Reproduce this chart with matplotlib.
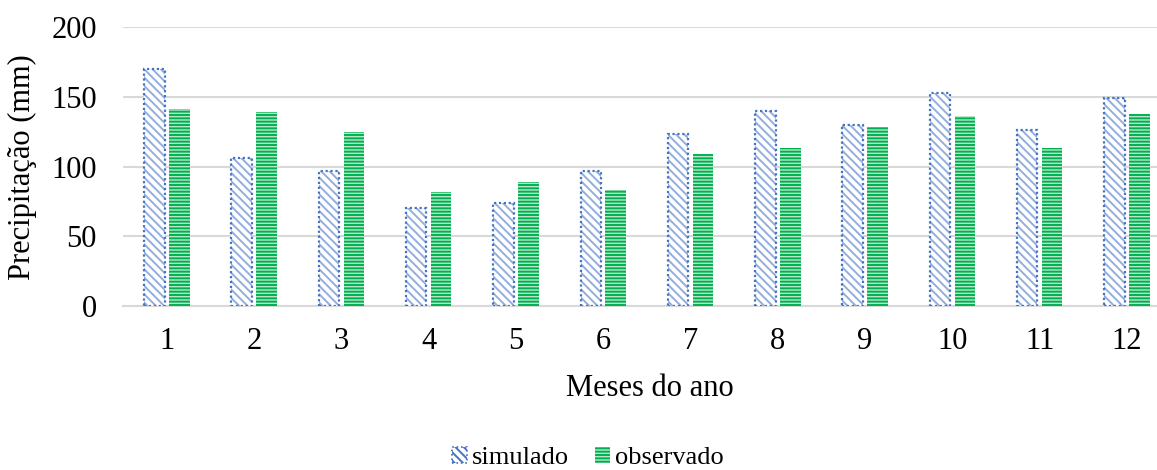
import matplotlib
matplotlib.use("Agg")
import matplotlib.pyplot as plt
import numpy as np
from matplotlib.patches import Patch

months = ["1", "2", "3", "4", "5", "6", "7", "8", "9", "10", "11", "12"]
simulado = [170, 106, 97, 70, 74, 97, 123, 140, 130, 152.5, 126.5, 149]
observado = [141, 139, 125, 81.5, 89, 83, 109, 113, 128.5, 136, 113.5, 137.5]
yticks = [0, 50, 100, 150, 200]

plt.rcParams['font.family'] = ['Liberation Serif', 'DejaVu Serif']
plt.rcParams['hatch.linewidth'] = 1.4

W, H = 1157, 470
fig = plt.figure(figsize=(W / 100, H / 100), dpi=100)
left = 123.2 / W
right = 1170.6 / W
bottom = (H - 306) / H
top = (H - 27) / H
ax = fig.add_axes([left, bottom, right - left, top - bottom])

x = np.arange(len(months))
bw = 0.235
off = 0.143

sim_blue = '#4472C4'
sim_hatch = '#92AEDF'
obs_green = '#00B050'
obs_light = '#B8E8C9'

# simulado: diagonal hatch + dotted outline
ax.bar(x - off, simulado, bw, color='white', edgecolor=sim_hatch, hatch='\\\\\\\\',
       linewidth=0, zorder=3)
ax.bar(x - off, simulado, bw, fill=False, edgecolor=sim_blue, linewidth=1.6,
       linestyle=(0, (1, 1.2)), zorder=4)
# observado: horizontal stripes
ax.bar(x + off, observado, bw, color=obs_light, edgecolor=obs_green, hatch='-----',
       linewidth=0, zorder=3)

ax.set_xlim(-0.5, len(months) - 0.5)
ax.set_ylim(0, 200)
ax.set_yticks(yticks)
ax.set_xticks(x)
ax.set_xticklabels(months)
ax.tick_params(axis='both', length=0, labelsize=22, colors='black')
ax.tick_params(axis='y', pad=19)
ax.tick_params(axis='x', pad=15)
ax.grid(axis='y', color='#D9D9D9', linewidth=1.5, zorder=0)
ax.set_axisbelow(True)
for s in ['top', 'right', 'left']:
    ax.spines[s].set_visible(False)
ax.spines['bottom'].set_color('#D9D9D9')
ax.spines['bottom'].set_linewidth(1.5)

fig.text(22 / W, (H - 167) / H, 'Precipitação (mm)', rotation=90, ha='center',
         va='center', fontsize=22)
fig.text(650 / W, (H - 388) / H, 'Meses do ano', ha='center', va='center', fontsize=22)

handles = [Patch(facecolor='white', edgecolor=sim_blue, hatch='\\\\\\\\', linestyle=':', linewidth=1.2),
           Patch(facecolor=obs_light, edgecolor=obs_green, hatch='-----', linewidth=0)]
leg = fig.legend(handles, ['simulado', 'observado'], loc='center', ncol=2,
                 bbox_to_anchor=(588 / W, (H - 458) / H), frameon=False, fontsize=19,
                 handlelength=0.57, handleheight=0.57, handletextpad=0.19,
                 columnspacing=1.0, borderpad=0.1)

fig.savefig('out.png', dpi=100)
